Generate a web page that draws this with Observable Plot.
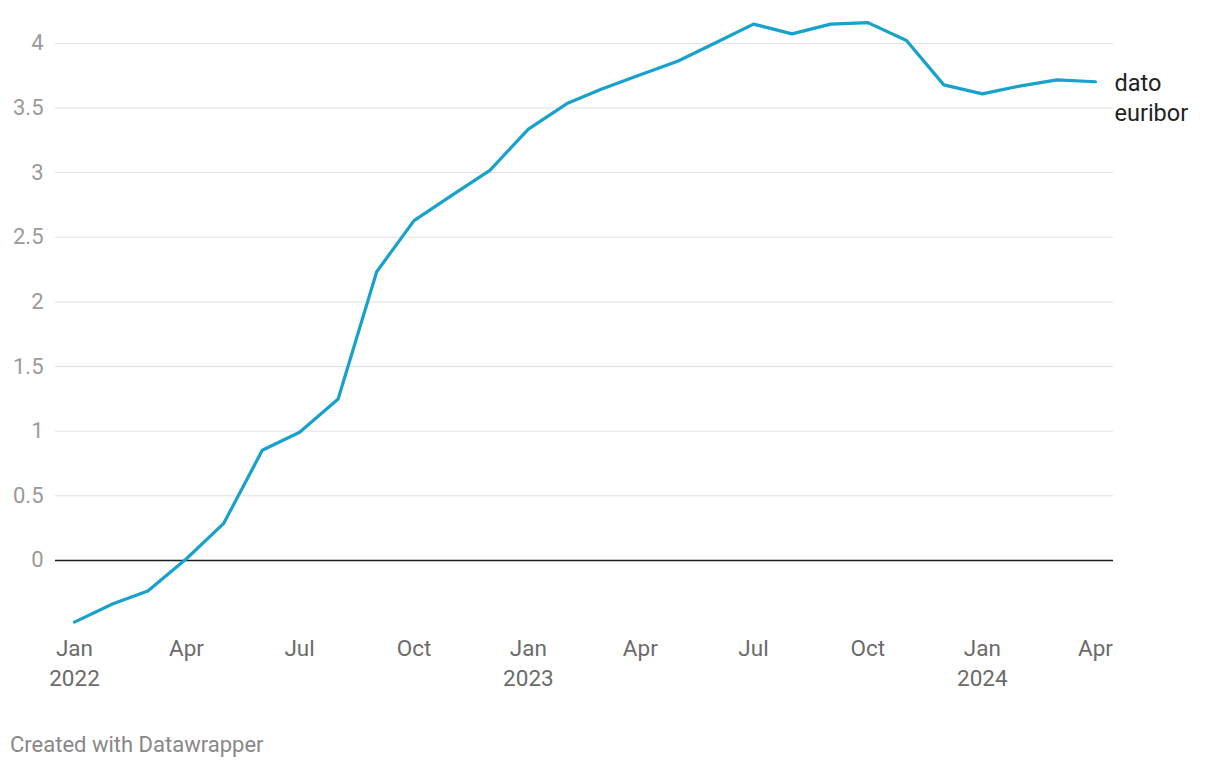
<!DOCTYPE html>
<html><head><meta charset="utf-8">
<script src="https://cdn.jsdelivr.net/npm/d3@7"></script>
<script src="https://cdn.jsdelivr.net/npm/@observablehq/plot@0.6"></script>
<style>
body{margin:0;background:#fff;font-family:Roboto,sans-serif}
#chart{position:relative;width:1220px;height:768px}
.caption{position:absolute;left:10px;top:731px;font-size:22px;line-height:28px;color:#888;font-family:Roboto,sans-serif}
</style></head><body>
<div id="chart"></div>
<script>
const months = ["2022-01","2022-02","2022-03","2022-04","2022-05","2022-06","2022-07","2022-08","2022-09","2022-10","2022-11","2022-12",
"2023-01","2023-02","2023-03","2023-04","2023-05","2023-06","2023-07","2023-08","2023-09","2023-10","2023-11","2023-12",
"2024-01","2024-02","2024-03","2024-04"];
const values = [-0.477,-0.335,-0.237,0.013,0.287,0.852,0.992,1.249,2.233,2.629,2.828,3.018,
3.337,3.534,3.647,3.757,3.862,4.007,4.149,4.073,4.149,4.160,4.022,3.679,
3.609,3.671,3.718,3.703];
const xTicks = ["2022-01","2022-04","2022-07","2022-10","2023-01","2023-04","2023-07","2023-10","2024-01","2024-04"];
const yTicks = [0,0.5,1,1.5,2,2.5,3,3.5,4];
const gridTicks = [0.5,1,1.5,2,2.5,3,3.5,4];
const seriesName = "dato\neuribor";
const monthNames = ["Jan","Feb","Mar","Apr","May","Jun","Jul","Aug","Sep","Oct","Nov","Dec"];

const parse = d3.utcParse("%Y-%m");
const data = months.map((m, i) => ({date: parse(m), value: values[i]}));
const last = data[data.length - 1];

const chart = Plot.plot({
  width: 1220,
  height: 720,
  marginLeft: 55,
  marginRight: 107,
  marginTop: 17,
  marginBottom: 82.5,
  style: {fontFamily: "Roboto, sans-serif", background: "#fff", overflow: "visible"},
  x: {type: "utc", range: [74, 1095], domain: [parse("2022-01"), parse("2024-04")]},
  y: {domain: [-0.6, 4.2]},
  marks: [
    Plot.ruleY(gridTicks, {stroke: "#e1e1e1", strokeWidth: 1}),
    Plot.ruleY([0], {stroke: "#1d1d1d", strokeWidth: 1.5}),
    Plot.axisY(yTicks, {tickSize: 0, tickPadding: 12, fontSize: 22, fill: "#9a9a9a", tickFormat: d => String(d), label: null}),
    Plot.axisX(xTicks.map(parse), {tickSize: 0, tickPadding: 3, dy: -7, fontSize: 22.5, fill: "#6b6b6b", lineHeight: 1.36, label: null,
      tickFormat: d => d.getUTCMonth() === 0 ? monthNames[0] + "\n" + d.getUTCFullYear() : monthNames[d.getUTCMonth()]}),
    Plot.line(data, {x: "date", y: "value", stroke: "#18a1cd", strokeWidth: 3.2, strokeLinejoin: "round", strokeLinecap: "round"}),
    Plot.text([last], {x: "date", y: "value", text: () => seriesName, textAnchor: "start", lineAnchor: "top", dx: 19, dy: -11, fontSize: 23.5, fill: "#222", lineHeight: 1.24})
  ]
});
document.getElementById("chart").appendChild(chart);
const cap = document.createElement("div");
cap.className = "caption";
cap.textContent = "Created with Datawrapper";
document.getElementById("chart").appendChild(cap);
</script>
</body></html>
